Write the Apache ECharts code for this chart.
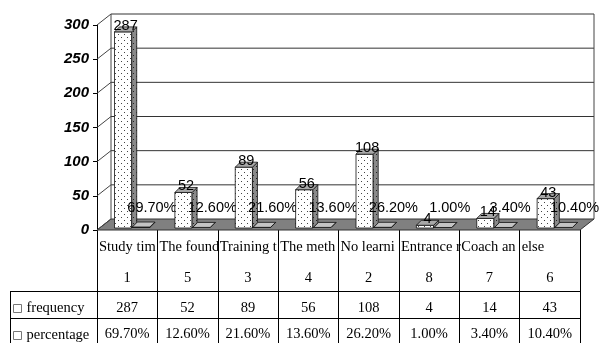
<!DOCTYPE html>
<html><head><meta charset="utf-8">
<script src="https://cdn.jsdelivr.net/npm/echarts@6/dist/echarts.min.js"></script>
<style>html,body{margin:0;padding:0;background:#fff;}#c{width:603px;height:343px;}</style>
</head><body><div id="c"></div>
<script>
// ---- data ----
const categories = ['Study tim', 'The found', 'Training t', 'The metho', 'No learnin', 'Entrance r', 'Coach and', 'else'];
const ranks = ['1', '5', '3', '4', '2', '8', '7', '6'];
const frequency = [287, 52, 89, 56, 108, 4, 14, 43];
const percentage = [69.7, 12.6, 21.6, 13.6, 26.2, 1.0, 3.4, 10.4];
const yTicks = [0, 50, 100, 150, 200, 250, 300];
const rowNames = ['frequency', 'percentage'];

// ---- style / layout ----
const WALL_DX = 14, WALL_DY = -11;
const BAR_DX = 5, BAR_DY = -5;
const SERIF = '"Liberation Serif", "Times New Roman", serif';
const SANS = '"Liberation Sans", Arial, sans-serif';

function dotCanvas(bg, dot) {
  const c = document.createElement('canvas');
  c.width = 6; c.height = 6;
  const g = c.getContext('2d');
  g.fillStyle = bg; g.fillRect(0, 0, 6, 6);
  g.fillStyle = dot; g.fillRect(1, 1, 1, 1); g.fillRect(4, 4, 1, 1);
  return c;
}
const frontFill = { image: dotCanvas('#ffffff', '#444'), repeat: 'repeat' };
const sideFill = { image: dotCanvas('#8a8a8a', '#222'), repeat: 'repeat' };

function box(x1, x2, yt, yb, z2, front, side, top) {
  const st = { stroke: '#111', lineWidth: 0.8 };
  return [
    { type: 'rect', z2: z2, shape: { x: x1, y: yt, width: x2 - x1, height: Math.max(yb - yt, 0.01) }, style: Object.assign({ fill: front }, st) },
    { type: 'polygon', z2: z2, shape: { points: [[x2, yb], [x2, yt], [x2 + BAR_DX, yt + BAR_DY], [x2 + BAR_DX, yb + BAR_DY]] }, style: Object.assign({ fill: side }, st) },
    { type: 'polygon', z2: z2, shape: { points: [[x1, yt], [x2, yt], [x2 + BAR_DX, yt + BAR_DY], [x1 + BAR_DX, yt + BAR_DY]] }, style: Object.assign({ fill: top }, st) }
  ];
}

function txt(text, x, y, font, align, z2, extra) {
  return { type: 'text', z2: z2, style: Object.assign({ text: text, x: x, y: y, font: font, fill: '#000',
    align: align, verticalAlign: 'middle', textAlign: align, textVerticalAlign: 'middle' }, extra || {}) };
}

const chart = echarts.init(document.getElementById('c'), null, { renderer: 'canvas' });

const option = {
  animation: false,
  backgroundColor: '#fff',
  grid: { left: 97, top: 25, width: 483, height: 205 },
  legend: {
    orient: 'vertical', left: 13, top: 301, padding: 0, itemWidth: 8, itemHeight: 8, itemGap: 12,
    selectedMode: false,
    textStyle: { fontFamily: SERIF, fontSize: 14.5, color: '#000', lineHeight: 14 },
    data: rowNames.map(n => ({ name: n, icon: 'rect', itemStyle: { color: '#fff', borderColor: '#777', borderWidth: 1 } }))
  },
  xAxis: {
    type: 'category', data: categories, boundaryGap: true,
    axisLine: { show: false },
    axisTick: { show: true, interval: 0, length: 113, lineStyle: { color: '#000', width: 1 } },
    axisLabel: { show: false },
    splitLine: { show: false }
  },
  yAxis: {
    type: 'value', min: yTicks[0], max: yTicks[yTicks.length - 1], interval: yTicks[1] - yTicks[0],
    axisLine: { show: true, lineStyle: { color: '#000', width: 1 } },
    axisTick: { show: true, length: 4, lineStyle: { color: '#000' } },
    axisLabel: { margin: 8, fontFamily: SANS, fontSize: 15, fontWeight: 'bold', fontStyle: 'italic', color: '#000' },
    splitLine: { show: false }
  },
  graphic: [
    { type: 'line', shape: { x1: 10, y1: 291.5, x2: 580, y2: 291.5 }, style: { stroke: '#000', lineWidth: 1 } },
    { type: 'line', shape: { x1: 10, y1: 318.5, x2: 580, y2: 318.5 }, style: { stroke: '#000', lineWidth: 1 } },
    { type: 'line', shape: { x1: 10.5, y1: 291, x2: 10.5, y2: 343 }, style: { stroke: '#000', lineWidth: 1 } }
  ],
  series: [
    {
      name: 'frame', type: 'custom', z: 1, silent: true,
      data: yTicks.map(v => [0, v]),
      renderItem: function (params, api) {
        const v = api.value(1);
        const rect = params.coordSys;
        const L = rect.x, R = rect.x + rect.width;
        const y = api.coord([0, v])[1];
        const y0 = api.coord([0, 0])[1];
        const ch = [];
        if (v === 0) {
          ch.push({ type: 'polygon', shape: { points: [[L, y], [R, y], [R + WALL_DX, y + WALL_DY], [L + WALL_DX, y + WALL_DY]] },
            style: { fill: '#808080', stroke: '#333', lineWidth: 1 } });
        } else {
          ch.push({ type: 'line', shape: { x1: L + WALL_DX, y1: y + WALL_DY, x2: R + WALL_DX, y2: y + WALL_DY }, style: { stroke: '#333', lineWidth: 1 } });
        }
        ch.push({ type: 'line', shape: { x1: L, y1: y, x2: L + WALL_DX, y2: y + WALL_DY }, style: { stroke: '#444', lineWidth: 1 } });
        if (v === yTicks[yTicks.length - 1]) {
          ch.push({ type: 'line', shape: { x1: L + WALL_DX, y1: y + WALL_DY, x2: L + WALL_DX, y2: y0 + WALL_DY }, style: { stroke: '#444', lineWidth: 1 } });
          ch.push({ type: 'line', shape: { x1: R + WALL_DX, y1: y + WALL_DY, x2: R + WALL_DX, y2: y0 + WALL_DY }, style: { stroke: '#444', lineWidth: 1 } });
        }
        return { type: 'group', children: ch };
      }
    },
    {
      name: 'frequency', type: 'custom', z: 2,
      data: frequency.map((v, i) => [i, v]),
      renderItem: function (params, api) {
        const i = api.value(0), v = api.value(1);
        const w = api.size([1, 0])[0];
        const base = api.coord([i, 0]);
        const top = api.coord([i, v]);
        const cs = base[0] - w / 2;
        const x1 = cs + 0.29 * w, x2 = cs + 0.575 * w;
        const yb = base[1] - 2, yt = top[1] - 2;
        const ch = box(x1, x2, yt, yb, i * 10, frontFill, sideFill, '#a8a8a8');
        ch.push(txt(String(v), (x1 + x2) / 2 + 2.5, yt - 6, '14.5px ' + SANS, 'center', i * 10 + 3));
        return { type: 'group', children: ch };
      }
    },
    {
      name: 'percentage', type: 'custom', z: 2,
      data: percentage.map((v, i) => [i, v / 100]),
      renderItem: function (params, api) {
        const i = api.value(0), v = api.value(1);
        const w = api.size([1, 0])[0];
        const base = api.coord([i, 0]);
        const top = api.coord([i, v]);
        const cs = base[0] - w / 2;
        const x1 = cs + 0.585 * w, x2 = cs + 0.875 * w;
        const yb = base[1] - 2.5, yt = top[1] - 2.5;
        const ch = box(x1, x2, yt, yb, i * 10 + 1, '#d0d0d0', '#909090', '#c4c4c4');
        ch.push(txt(percentage[i].toFixed(2) + '%', x1 - 5, yt - 19, '14.5px ' + SANS, 'left', i * 10 + 2));
        return { type: 'group', children: ch };
      }
    },
    {
      name: 'table', type: 'custom', z: 3, silent: true,
      data: categories.map((c, i) => [i, 0]),
      renderItem: function (params, api) {
        const i = api.value(0);
        const w = api.size([1, 0])[0];
        const cx = api.coord([i, 0])[0];
        const cs = cx - w / 2;
        const f = '14.5px ' + SERIF;
        return { type: 'group', children: [
          txt(categories[i], cs + 2, 247, f, 'left', 1, { width: w + 1, overflow: 'truncate', ellipsis: '' }),
          txt(ranks[i], cx, 278, f, 'center', 1),
          txt(String(frequency[i]), cx, 308, f, 'center', 1),
          txt(percentage[i].toFixed(2) + '%', cx, 334, f, 'center', 1)
        ] };
      }
    }
  ]
};
chart.setOption(option);
</script>
</body></html>
